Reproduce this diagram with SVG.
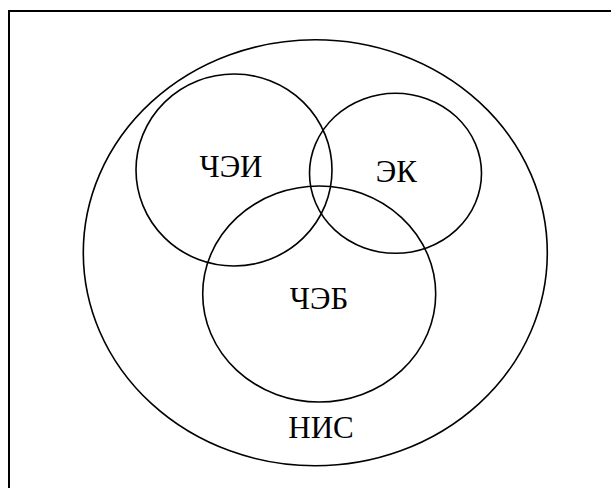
<svg xmlns="http://www.w3.org/2000/svg" width="611" height="488" viewBox="0 0 611 488">
<style>
.c{fill:none;stroke:#000;stroke-width:1.6}
.t{font-size:31px;fill:#000;text-anchor:middle}
</style>
<rect width="611" height="488" fill="#fff"/>
<path d="M9,488 V11 H611" fill="none" stroke="#000" stroke-width="2"/>
<g font-family="'Liberation Serif', 'DejaVu Serif', serif">
<g id="nis"><ellipse class="c" cx="315.3" cy="252.8" rx="232" ry="213"/><text class="t" x="321" y="437.7">НИС</text></g>
<g id="chei"><ellipse class="c" cx="234" cy="170" rx="98" ry="96"/><text class="t" x="231" y="177.3">ЧЭИ</text></g>
<g id="ek"><ellipse class="c" cx="395.5" cy="173.3" rx="86" ry="80"/><text class="t" x="396.3" y="181.7">ЭК</text></g>
<g id="cheb"><ellipse class="c" cx="319.2" cy="294" rx="116.5" ry="108"/><text class="t" x="319" y="309.3">ЧЭБ</text></g>
</g>
<g id="connectors"></g>
</svg>
